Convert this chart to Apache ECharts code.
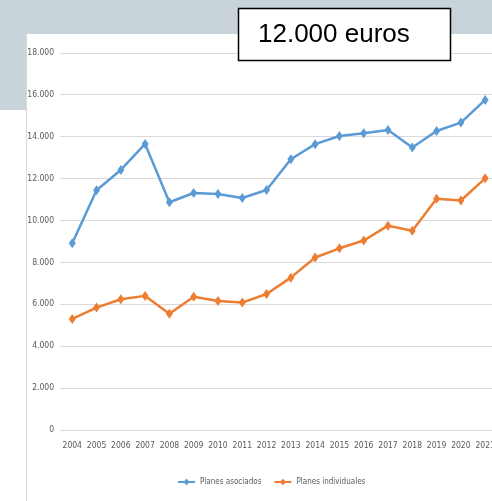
<!DOCTYPE html>
<html><head><meta charset="utf-8">
<script src="https://cdn.jsdelivr.net/npm/echarts@6/dist/echarts.min.js"></script>
<style>html,body{margin:0;padding:0;background:#fff}#c{width:492px;height:501px}</style>
</head><body><div id="c"></div>
<script>
const years = ['2004','2005','2006','2007','2008','2009','2010','2011','2012','2013','2014','2015','2016','2017','2018','2019','2020','2021'];
const asociados = [8910,11440,12410,13650,10870,11310,11260,11070,11450,12920,13640,14030,14160,14320,13480,14270,14670,15750];
const individuales = [5300,5840,6240,6400,5550,6360,6160,6080,6490,7270,8230,8670,9040,9750,9510,11030,10950,12010];
const yTicks = [0,2000,4000,6000,8000,10000,12000,14000,16000,18000];
const titleText = '12.000 euros';

const font = '"DejaVu Sans Condensed",sans-serif';
const chart = echarts.init(document.getElementById('c'));
chart.setOption({
  animation:false,
  graphic:[
    {type:'rect',z:-10,silent:true,shape:{x:0,y:0,width:492,height:34},style:{fill:'#c9d4da'}},
    {type:'rect',z:-10,silent:true,shape:{x:0,y:0,width:26,height:110},style:{fill:'#c9d4da'}},
    {type:'line',z:-9,silent:true,shape:{x1:26.5,y1:34,x2:26.5,y2:501},style:{stroke:'#d9d9d9',lineWidth:1}},
    {type:'rect',z:100,shape:{x:238.5,y:8.5,width:212,height:52},style:{fill:'#fff',stroke:'#000',lineWidth:1.5}},
    {type:'text',z:101,style:{x:258,y:35,text:titleText,fill:'#000',font:'26px "Liberation Sans",Arial,sans-serif',textVerticalAlign:'middle'}}
  ],
  grid:{left:60.1,width:437.2,top:52.8,bottom:71,containLabel:false,outerBoundsMode:'none'},
  legend:{bottom:10,left:172,itemWidth:17,itemHeight:8,itemGap:12,
    textStyle:{fontFamily:font,fontSize:8,color:'#595959'},
    data:['Planes asociados','Planes individuales']},
  xAxis:{type:'category',data:years,boundaryGap:true,
    axisLine:{show:false},axisTick:{show:false},
    axisLabel:{margin:11,fontFamily:font,fontSize:8.5,color:'#595959',interval:0}},
  yAxis:{type:'value',min:0,max:18000,interval:2000,
    axisLine:{show:false},axisTick:{show:false},
    splitLine:{lineStyle:{color:'#d9d9d9',width:1}},
    axisLabel:{margin:6,fontFamily:font,fontSize:8.5,color:'#595959',
      formatter:v=>String(v).replace(/\B(?=(\d{3})+(?!\d))/g,'.')}},
  series:[
    {name:'Planes asociados',type:'line',data:asociados,symbol:'diamond',symbolSize:[7,10],
      lineStyle:{color:'#5b9bd5',width:2.5},itemStyle:{color:'#5b9bd5'}},
    {name:'Planes individuales',type:'line',data:individuales,symbol:'diamond',symbolSize:[7,10],
      lineStyle:{color:'#ed7d31',width:2.5},itemStyle:{color:'#ed7d31'}}
  ]
});
</script></body></html>
